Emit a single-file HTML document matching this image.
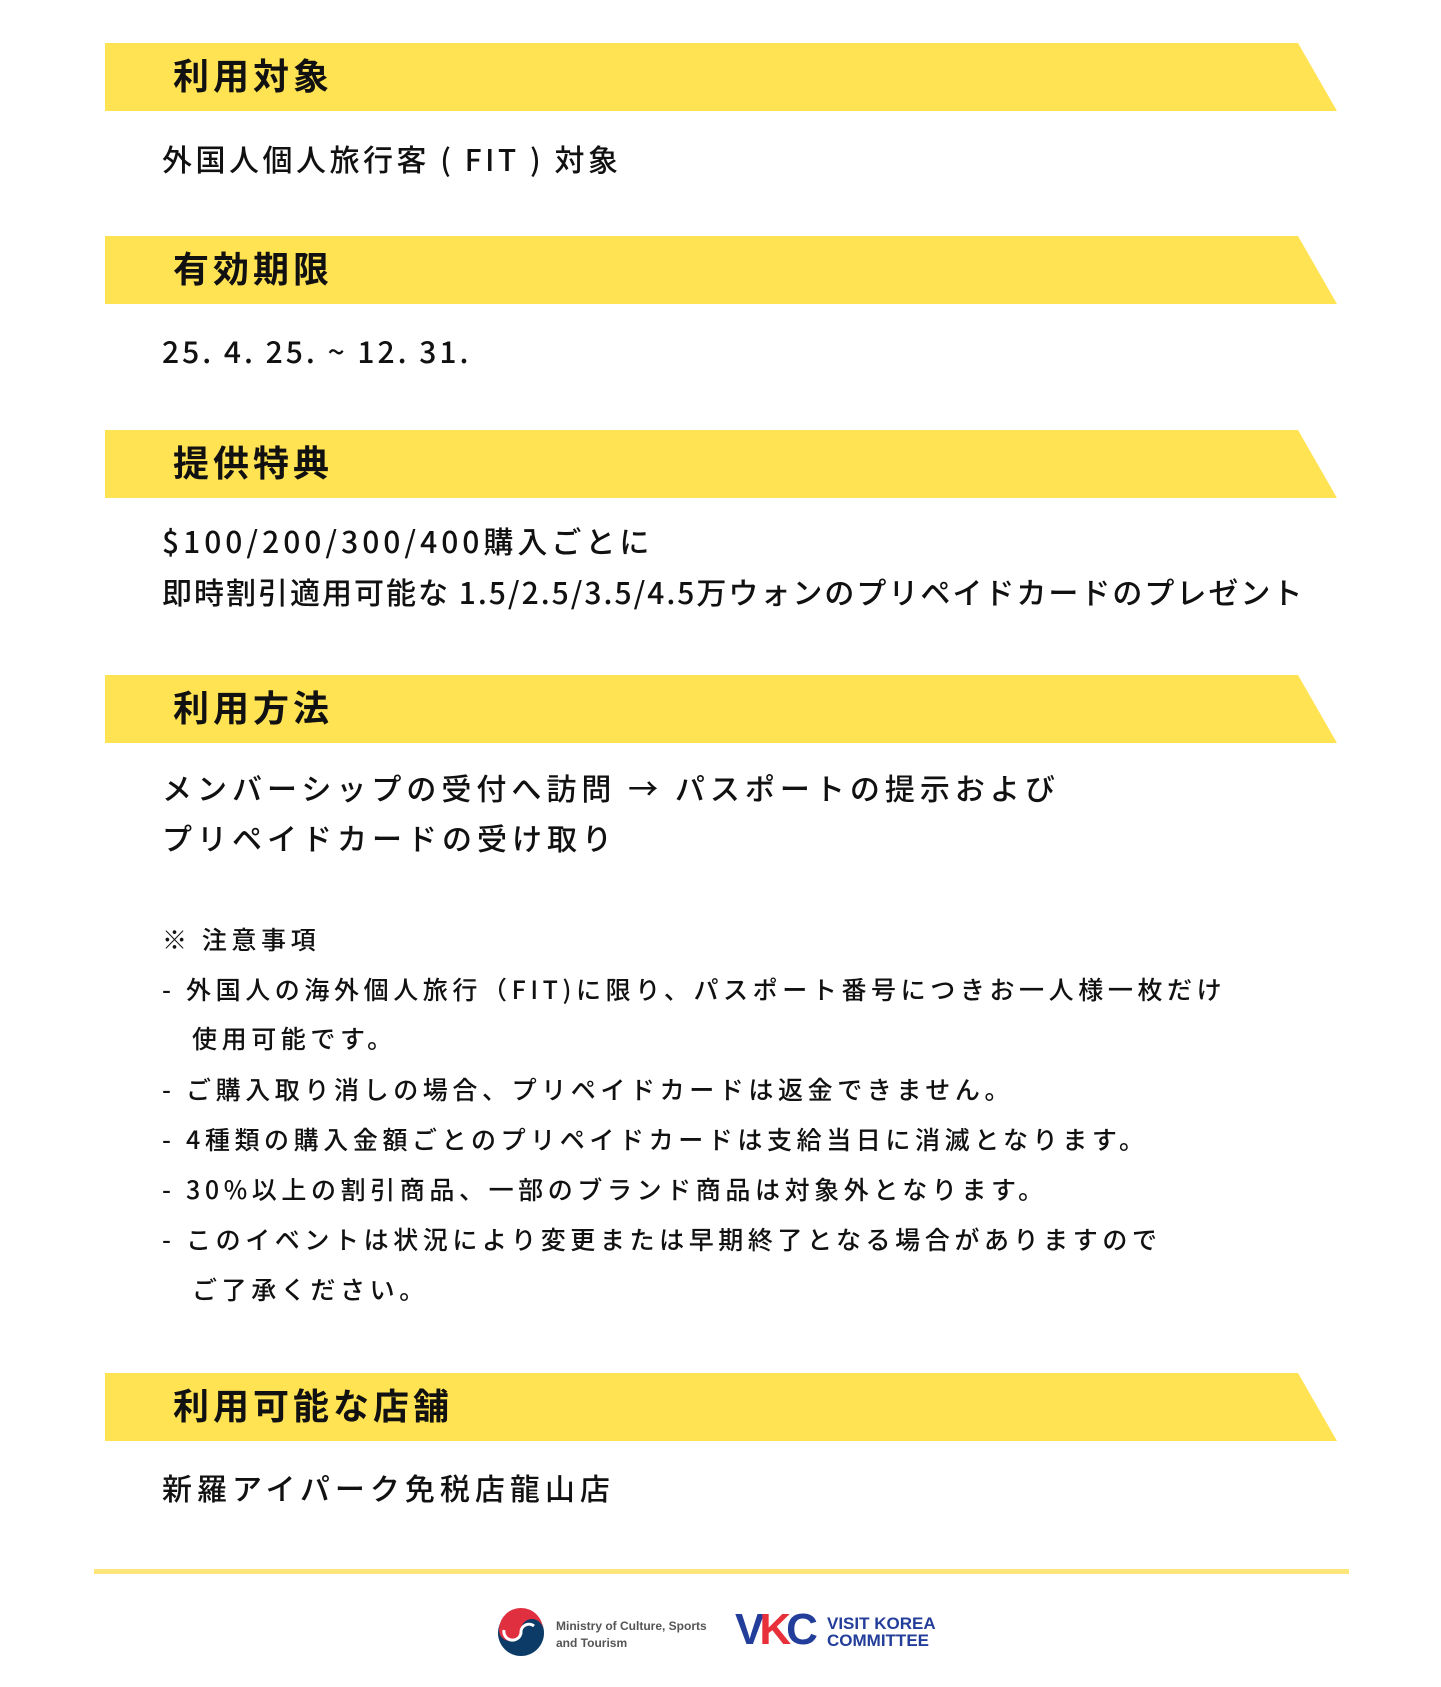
<!DOCTYPE html>
<html><head><meta charset="utf-8"><style>
html,body{margin:0;padding:0;background:#fff;}
body{width:1441px;height:1687px;position:relative;overflow:hidden;font-family:"Liberation Sans","Noto Sans CJK JP",sans-serif;color:#111;}
.ban{position:absolute;left:105px;width:1232px;height:68px;background:#ffe352;clip-path:polygon(0 0,1193px 0,1232px 100%,0 100%);}
.ban span{position:absolute;left:68px;top:50%;transform:translateY(-56%);font-size:36px;font-weight:bold;font-family:"Noto Sans CJK JP",sans-serif;letter-spacing:4px;}
.t{position:absolute;left:162px;font-size:30px;font-family:"Noto Sans CJK JP",sans-serif;font-weight:500;white-space:nowrap;line-height:1;transform:translateY(-56%);letter-spacing:3px;}
.n{position:absolute;left:162px;font-size:25px;font-family:"Noto Sans CJK JP",sans-serif;font-weight:500;white-space:nowrap;line-height:1;transform:translateY(-56%);letter-spacing:4.6px;}
.n b{display:inline-block;width:24px;font-weight:500;}
</style></head><body>
<div class="ban" style="top:43px"><span>利用対象</span></div>
<div class="t" style="top:160px;letter-spacing:3.5px">外国人個人旅行客 ( FIT ) 対象</div>
<div class="ban" style="top:236px"><span>有効期限</span></div>
<div class="t" style="top:352px">25. 4. 25. ~ 12. 31.</div>
<div class="ban" style="top:430px"><span>提供特典</span></div>
<div class="t" style="top:542px;letter-spacing:4px">$100/200/300/400購入ごとに</div>
<div class="t" style="top:593px;letter-spacing:2px">即時割引適用可能な 1.5/2.5/3.5/4.5万ウォンのプリペイドカードのプレゼント</div>
<div class="ban" style="top:675px"><span>利用方法</span></div>
<div class="t" style="top:789px;letter-spacing:5px">メンバーシップの受付へ訪問 → パスポートの提示および</div>
<div class="t" style="top:839px;letter-spacing:5px">プリペイドカードの受け取り</div>
<div class="n" style="top:941px">※ 注意事項</div>
<div class="n" style="top:991px"><b>-</b>外国人の海外個人旅行（FIT)に限り、パスポート番号につきお一人様一枚だけ</div>
<div class="n" style="top:1040px;left:192px">使用可能です。</div>
<div class="n" style="top:1091px"><b>-</b>ご購入取り消しの場合、プリペイドカードは返金できません。</div>
<div class="n" style="top:1141px"><b>-</b>4種類の購入金額ごとのプリペイドカードは支給当日に消滅となります。</div>
<div class="n" style="top:1191px"><b>-</b>30%以上の割引商品、一部のブランド商品は対象外となります。</div>
<div class="n" style="top:1241px"><b>-</b>このイベントは状況により変更または早期終了となる場合がありますので</div>
<div class="n" style="top:1291px;left:192px">ご了承ください。</div>
<div class="ban" style="top:1373px"><span>利用可能な店舗</span></div>
<div class="t" style="top:1489px;letter-spacing:5px">新羅アイパーク免税店龍山店</div>
<div style="position:absolute;left:94px;top:1569px;width:1255px;height:5px;background:#ffe67a"></div>
<svg style="position:absolute;left:496px;top:1608px" width="52" height="50" viewBox="0 0 52 50">
<circle cx="25" cy="25" r="23" fill="#0b3b66"/>
<path d="M3 22 A22 22 0 0 1 47 22 A11 11 0 0 0 25 22 A9 9 0 0 1 3 22Z" fill="#e03040"/>
<path d="M8 22 A8 8 0 0 0 25 25 A8 8 0 0 1 38 18" fill="none" stroke="#fff" stroke-width="3"/>
</svg>
<div style="position:absolute;left:556px;top:1618px;font-size:12px;font-weight:bold;color:#555;line-height:17px">Ministry of Culture, Sports<br>and Tourism</div>
<div style="position:absolute;left:735px;top:1608px;font-size:44px;font-weight:bold;color:#233e9a;letter-spacing:-5px;line-height:1">V<span style="color:#e8303a">K</span>C</div>
<div style="position:absolute;left:827px;top:1615px;font-size:17px;font-weight:bold;color:#233e9a;line-height:17px">VISIT KOREA<br>COMMITTEE</div>
</body></html>
